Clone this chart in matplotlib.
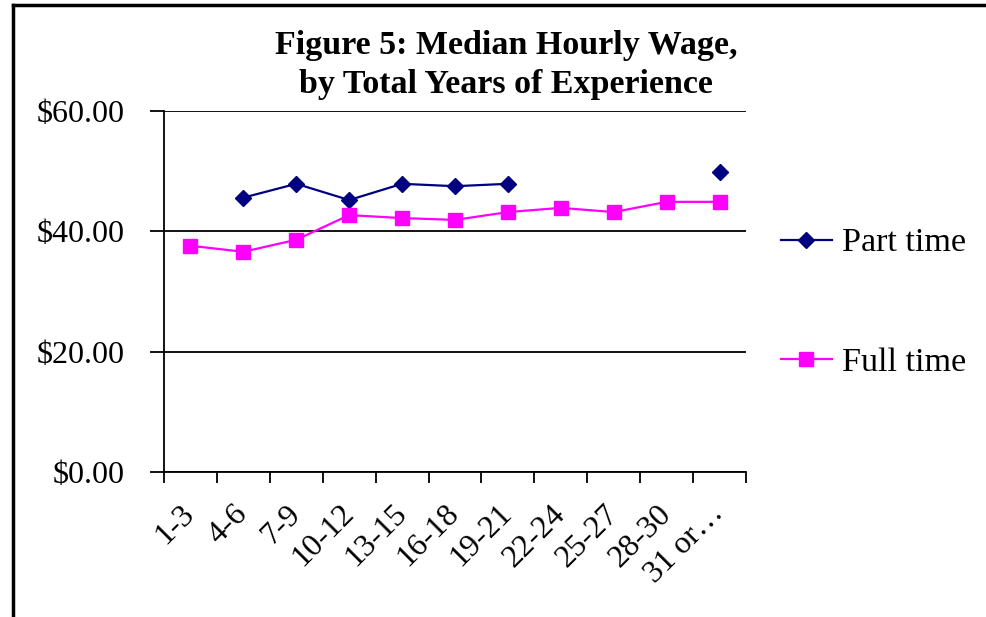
import matplotlib
matplotlib.use("Agg")
import matplotlib.pyplot as plt
import numpy as np
from matplotlib.lines import Line2D

categories = ["1-3", "4-6", "7-9", "10-12", "13-15", "16-18", "19-21",
              "22-24", "25-27", "28-30", "31 or…"]
part_time = [np.nan, 45.6, 47.9, 45.2, 47.9, 47.5, 47.9, np.nan, np.nan, np.nan, 49.9]
full_time = [37.6, 36.6, 38.6, 42.7, 42.2, 41.9, 43.2, 43.9, 43.2, 44.9, 44.9]
y_ticks = [0, 20, 40, 60]
y_labels = ["$0.00", "$20.00", "$40.00", "$60.00"]
title = "Figure 5: Median Hourly Wage,\nby Total Years of Experience"

plt.rcParams['font.family'] = ['Liberation Serif', 'DejaVu Serif']

W, H = 987, 617
fig = plt.figure(figsize=(W/100, H/100), dpi=100)
ax = fig.add_axes([164/W, 1-472/H, (746-164)/W, (472-111)/H])

x = np.arange(len(categories))
ax.plot(x, part_time, color="#000080", marker="D", markersize=8.5, lw=1.6, label="Part time")
ax.plot(x, full_time, color="#FF00FF", marker="s", markersize=10, lw=1.6, label="Full time")

ax.set_xlim(-0.5, len(categories)-0.5)
ax.set_ylim(0, 60)
ax.set_yticks(y_ticks)
ax.set_yticklabels(y_labels, fontsize=23)
ax.set_xticks(np.arange(len(categories)+1)-0.5, minor=False)
ax.set_xticklabels([])
ax.set_xticks(x, minor=True)
ax.set_xticklabels(categories, minor=True, rotation=45, ha="right", va="center",
                   rotation_mode="anchor", fontsize=23)
ax.tick_params(axis="x", which="minor", length=0, pad=27)
ax.tick_params(axis="x", which="major", length=8, width=1.3, direction="out")
ax.tick_params(axis="y", length=10, width=1.3, direction="out", pad=18)
for s in ["top", "right"]:
    ax.spines[s].set_visible(False)
for s in ["left", "bottom"]:
    ax.spines[s].set_linewidth(1.3)
ax.yaxis.grid(True, color="black", lw=1.3)
ax.set_axisbelow(True)

fig.text(506/W, 1-65/H, title, ha="center", va="center", fontsize=24.5,
         fontweight="bold", linespacing=1.3)

leg = fig.legend(loc="center left", bbox_to_anchor=(750/W, 1-303/H), frameon=False,
                 fontsize=24.5, labelspacing=2.62, handlelength=1.5, handletextpad=0.3)

fig.add_artist(Line2D([13/W, 13/W], [0, 1-5/H], color="black", lw=2.5, transform=fig.transFigure))
fig.add_artist(Line2D([13/W, 1], [1-5/H, 1-5/H], color="black", lw=2.5, transform=fig.transFigure))

fig.savefig("out.png", dpi=100)
